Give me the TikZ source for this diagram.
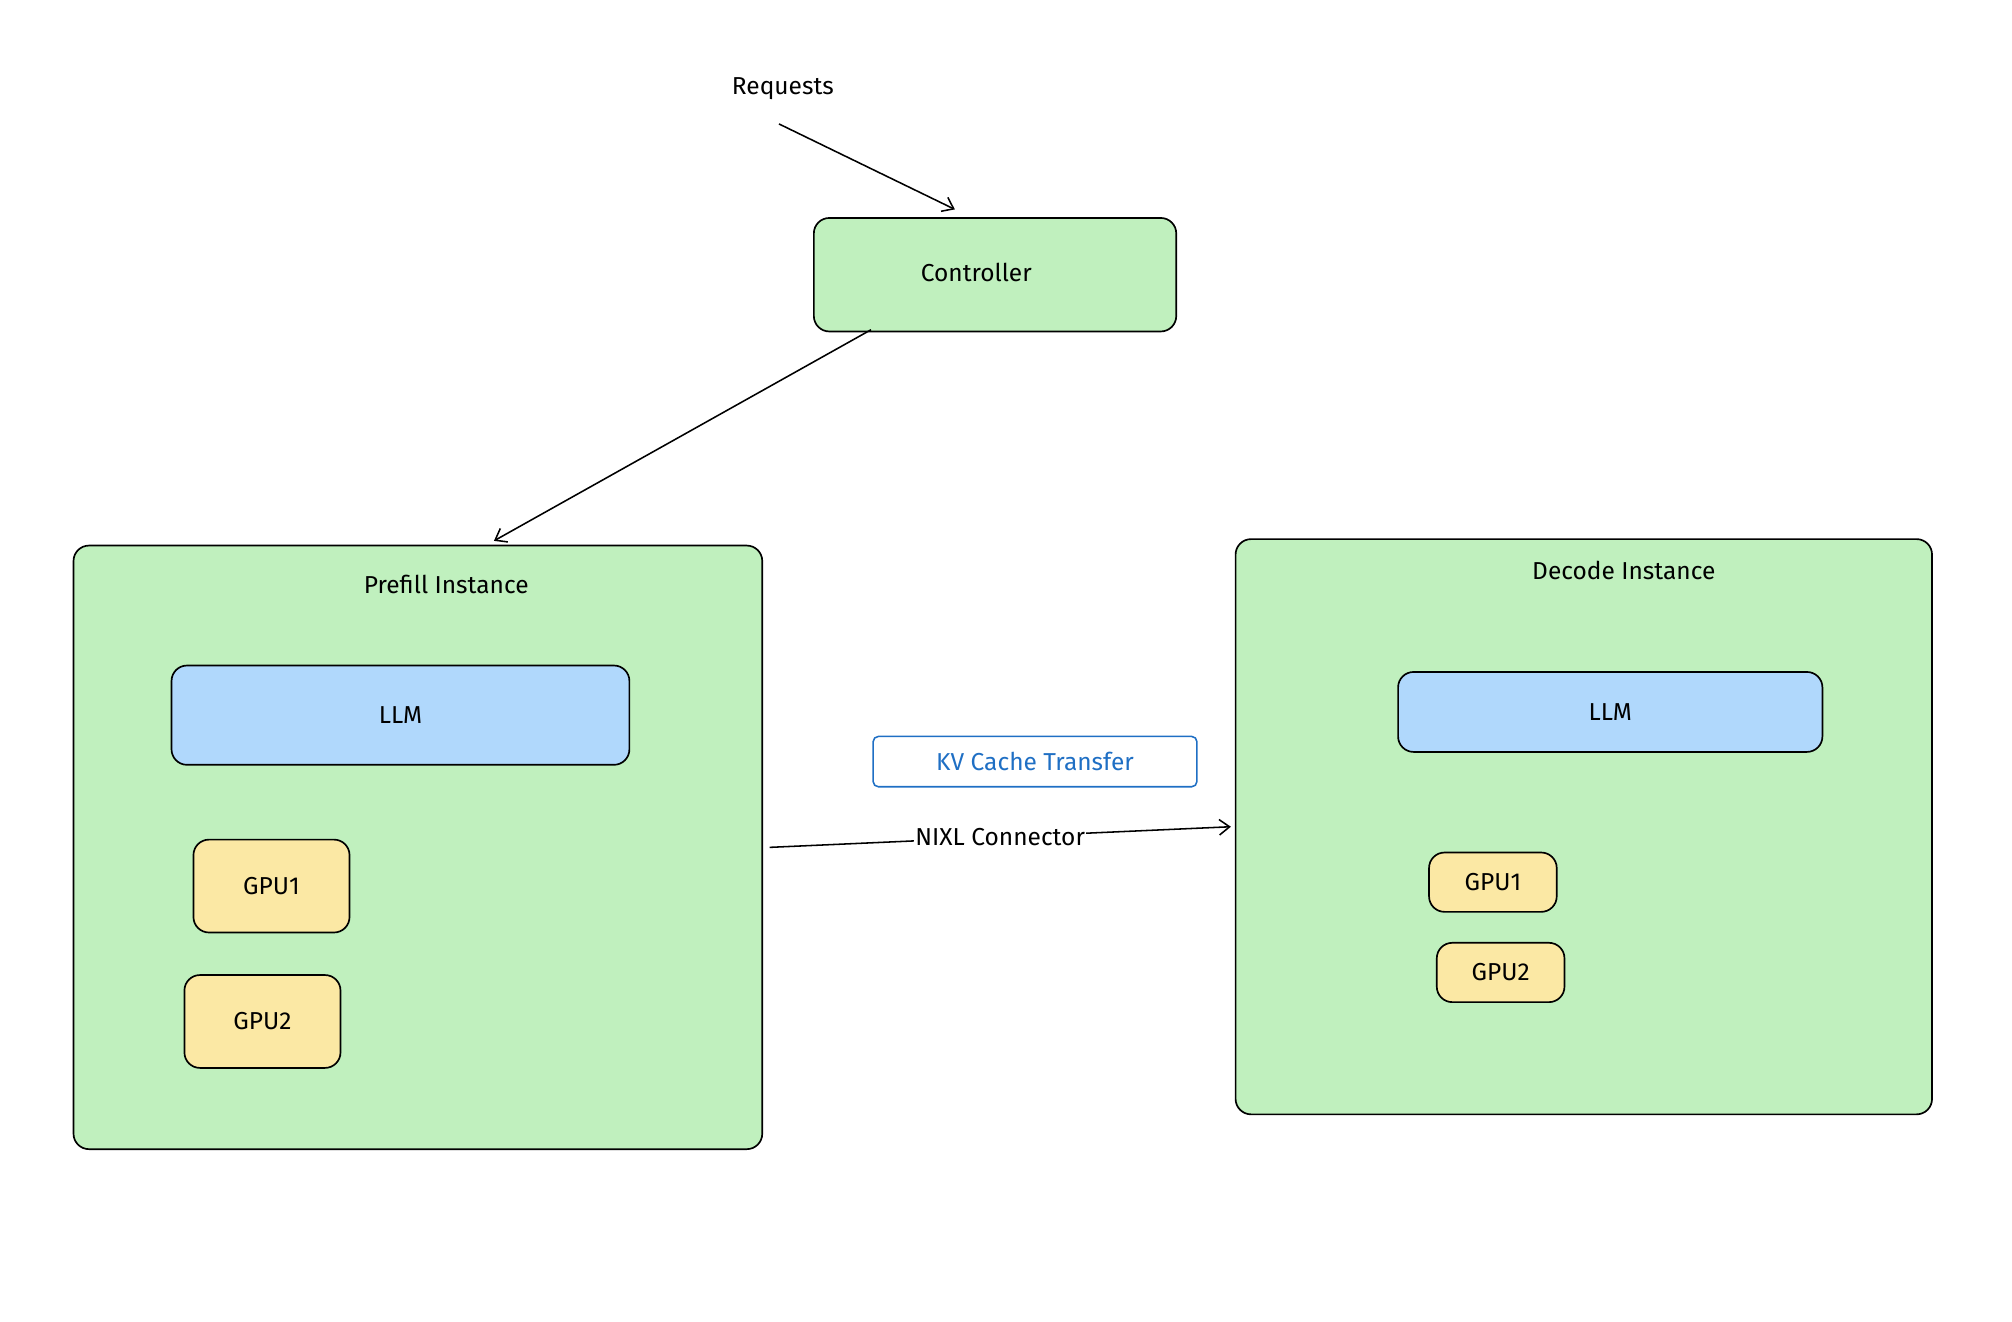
\documentclass[tikz,border=0pt]{standalone}
\usepackage{fontspec}
\setmainfont{Fira Sans}
\usetikzlibrary{arrows.meta, positioning, calc}
\definecolor{boxgreen}{HTML}{C0F0BE}
\definecolor{boxblue}{HTML}{B0D8FC}
\definecolor{boxyellow}{HTML}{FBE8A4}
\definecolor{kvblue}{HTML}{1F6FC4}
\begin{document}
\begin{tikzpicture}[x=1pt,y=-1pt,
    box/.style={draw=black,rounded corners=12pt,line width=1.3pt,inner sep=0pt},
    arr/.style={-{Straight Barb[length=8pt,width=12pt]},black,line width=1.2pt},
    every node/.style={font=\fontsize{19}{22}\selectfont}]
    \useasboundingbox (0,0) rectangle (1560,1025);

    \node (req) at (607,69) {Requests};
    \node[box,fill=boxgreen,minimum width=281pt,minimum height=88pt] (ctrl) at (771.5,213) {};
    \node at (757,211) {Controller};

    % prefill side
    \node[box,fill=boxgreen,minimum width=534pt,minimum height=468pt] (pre) at (324,657) {};
    \node at (346,453) {Prefill Instance};
    \node[box,fill=boxblue,minimum width=355pt,minimum height=77pt] (llmA) at (310.5,554.5) {LLM};
    \node[box,fill=boxyellow,minimum width=121pt,minimum height=72pt] (gpuA1) at (210.5,687) {GPU1};
    \node[box,fill=boxyellow,minimum width=121pt,minimum height=72pt] (gpuA2) at (203.5,792) {GPU2};

    % decode side
    \node[box,fill=boxgreen,minimum width=540pt,minimum height=446pt] (dec) at (1228,641) {};
    \node at (1259,442) {Decode Instance};
    \node[box,fill=boxblue,minimum width=329pt,minimum height=62pt] (llmB) at (1248.5,552) {LLM};
    \node[box,fill=boxyellow,minimum width=99pt,minimum height=46pt] (gpuB1) at (1157.5,684) {GPU1};
    \node[box,fill=boxyellow,minimum width=99pt,minimum height=46pt] (gpuB2) at (1163.5,754) {GPU2};

    \node[draw=kvblue,line width=1.2pt,rounded corners=4pt,text=kvblue,minimum width=251pt,minimum height=39pt] (kv) at (802.5,590.5) {KV Cache Transfer};

    \coordinate (reqEnd) at ($(req.south)+(-3,15)$);
    \coordinate (ctrlIn) at ($(ctrl.north west)+(110,-6)$);
    \coordinate (ctrlOut) at ($(ctrl.south west)+(45,-2)$);
    \coordinate (preIn) at ($(pre.north)+(59,-3)$);
    \coordinate (preOut) at ($(pre.east)+(5,0)$);
    \coordinate (decIn) at ($(dec.west)+(-3,0)$);

    \draw[arr] (reqEnd) -- (ctrlIn);
    \draw[arr] (ctrlOut) -- (preIn);
    \draw[arr] (preOut) -- node[fill=white,inner sep=1pt,pos=0.5] {NIXL Connector} (decIn);
\end{tikzpicture}
\end{document}
